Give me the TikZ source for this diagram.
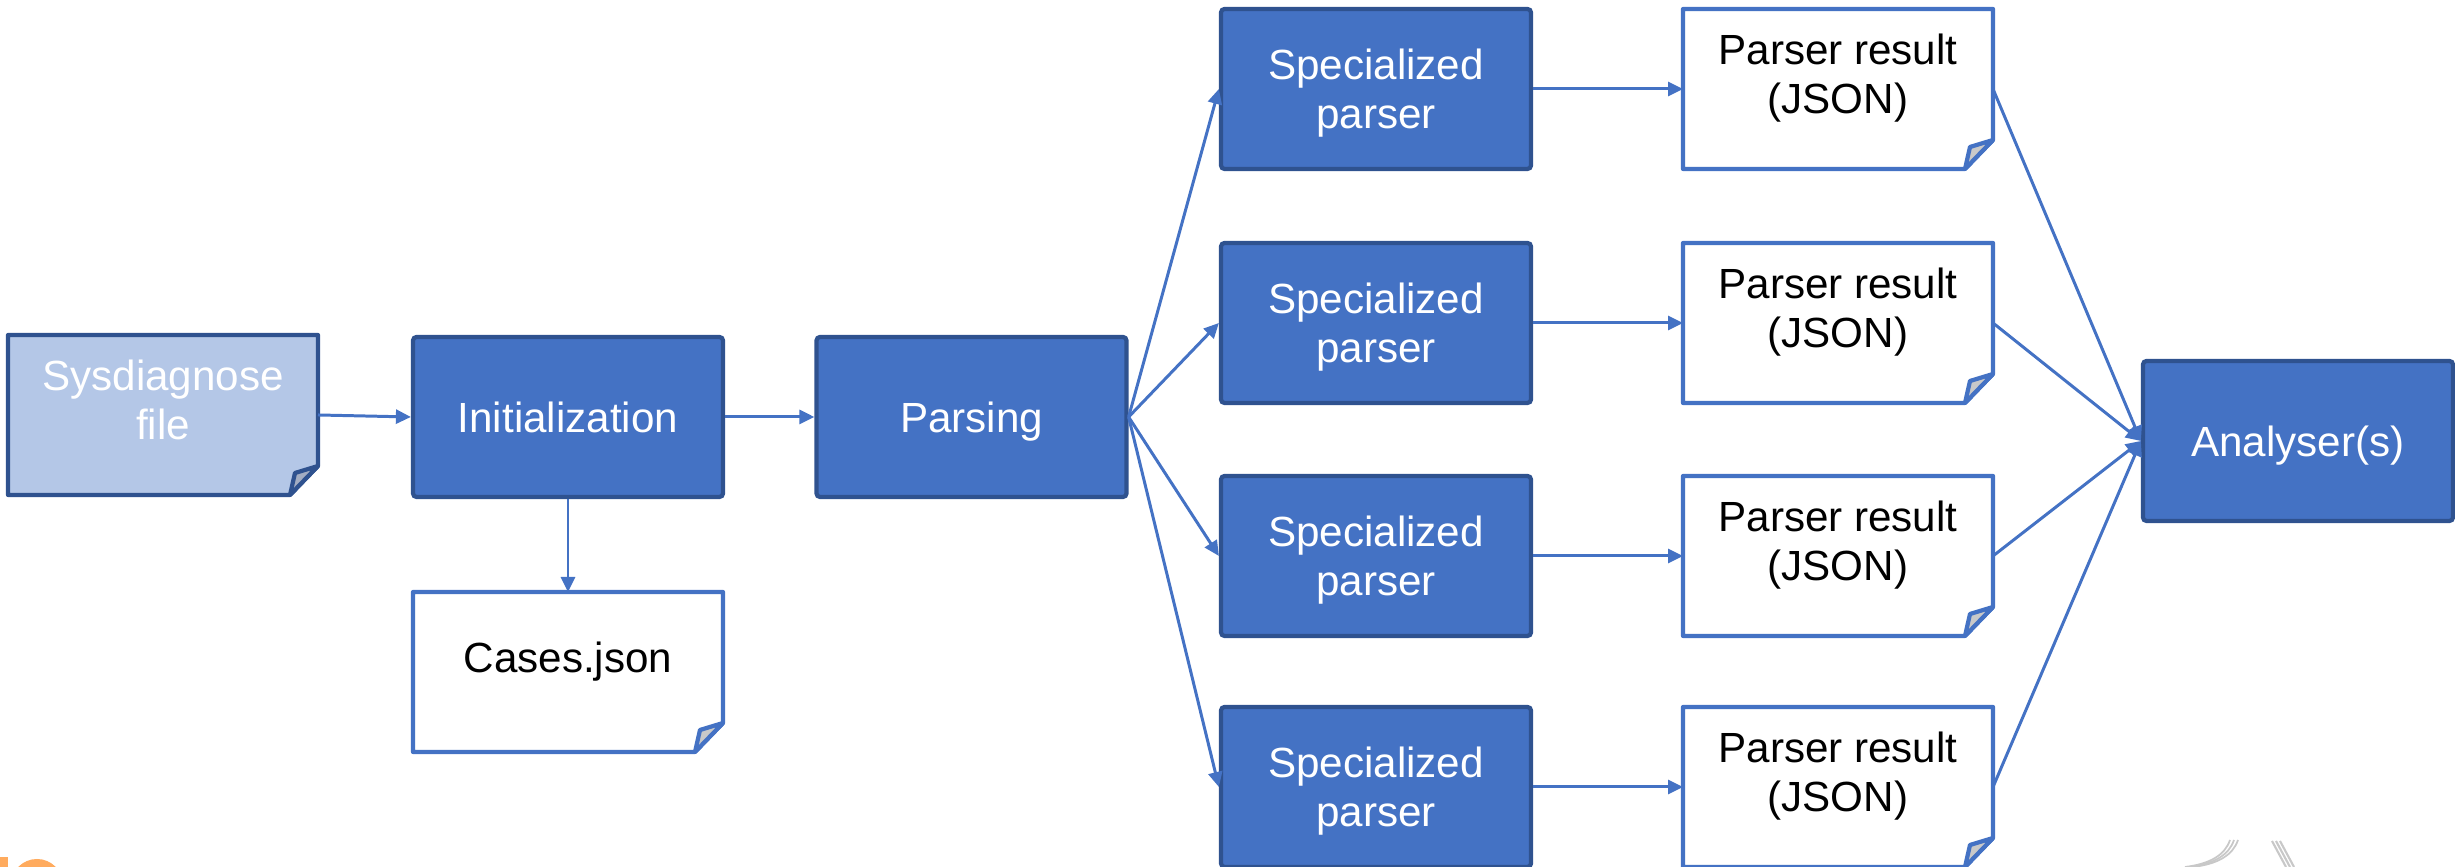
\documentclass[tikz,border=0pt]{standalone}
\usepackage{fontspec}
\setmainfont{Liberation Sans}
\usetikzlibrary{arrows.meta}
\usetikzlibrary{backgrounds}

\definecolor{procblue}{HTML}{4472C4}
\definecolor{procborder}{HTML}{2F528F}
\definecolor{filelight}{HTML}{B4C7E7}
\definecolor{foldgrey}{HTML}{C9C9C9}
\definecolor{foldblue}{HTML}{A3ADC2}
\definecolor{logoorange}{HTML}{FFAB5E}
\definecolor{logogrey}{HTML}{C8C8C8}

\newcommand{\boxfont}{\fontsize{12}{13.9}\selectfont}

% document outline with a folded bottom right corner
\newcommand{\docshape}[4]{%
  \filldraw[draw=#2, fill=#3, line width=1.2pt, line join=round]
    (#1.north west) -- (#1.north east) -- ([yshift=0.29cm]#1.south east)
    -- ([xshift=-0.28cm]#1.south east) -- (#1.south west) -- cycle;
  \filldraw[draw=#2, fill=#4, line width=1.2pt, line join=round]
    ([yshift=0.29cm]#1.south east) -- ([xshift=-0.23cm,yshift=0.22cm]#1.south east)
    -- ([xshift=-0.28cm]#1.south east) -- cycle;
}

\tikzset{
  procbox/.style={rectangle, rounded corners=1pt, draw=procborder, fill=procblue,
    line width=1.2pt, minimum width=3.1cm, minimum height=1.6cm,
    text=white, align=center, font=\boxfont, text depth=-0.03cm},
  docbox/.style={rectangle, minimum width=3.1cm, minimum height=1.6cm,
    outer sep=0pt, align=center, font=\boxfont, text depth=0.3cm},
  flow/.style={draw=procblue, line width=0.85pt, -{Triangle[length=0.15cm,width=0.14cm]}},
}

\begin{document}
\begin{tikzpicture}
\useasboundingbox (0,0) rectangle (24.55,8.67);

% logo fragments in the corners
\fill[logoorange] (0,0) rectangle (0.08,0.10);
\fill[logoorange] (0.37,-0.18) circle (0.26);
\foreach \d in {0,0.04,0.08}
  \draw[logogrey, line width=0.5pt] (21.85+\d,0) .. controls (22.10+\d,0.03) and (22.25+\d,0.12) .. (22.30+\d,0.27);
\foreach \d in {0,0.04,0.08}
  \draw[logogrey, line width=0.6pt] (22.72+\d,0.26) -- (22.86+\d,0);

\node[docbox, text=white] (sys) at (1.63,4.52) {Sysdiagnose\\file};
\node[procbox] (init) at (5.68,4.50) {Initialization};
\node[procbox] (parse) at (9.715,4.50) {Parsing};
\node[docbox] (cases) at (5.68,1.95) {Cases.json};
\node[procbox] (an) at (22.98,4.26) {Analyser(s)};

\foreach \i/\y in {1/7.78, 2/5.44, 3/3.11, 4/0.80} {
  \node[procbox] (sp\i) at (13.76,\y) {Specialized\\parser};
  \node[docbox] (pr\i) at (18.38,\y) {Parser result\\(JSON)};
}

\begin{scope}[on background layer]
  \docshape{sys}{procborder}{filelight}{foldblue}
  \docshape{cases}{procblue}{white}{foldgrey}
  \foreach \i in {1,...,4} {
    \docshape{pr\i}{procblue}{white}{foldgrey}
  }
\end{scope}

\draw[flow] (sys.east) -- (init.west);
\draw[flow] (init.east) -- (parse.west);
\draw[flow] (init.south) -- (cases.north);
\foreach \i in {1,...,4} {
  \draw[flow] (parse.east) -- (sp\i.west);
  \draw[flow] (sp\i.east) -- (pr\i.west);
  \draw[flow] (pr\i.east) -- (an.west);
}
\end{tikzpicture}
\end{document}
